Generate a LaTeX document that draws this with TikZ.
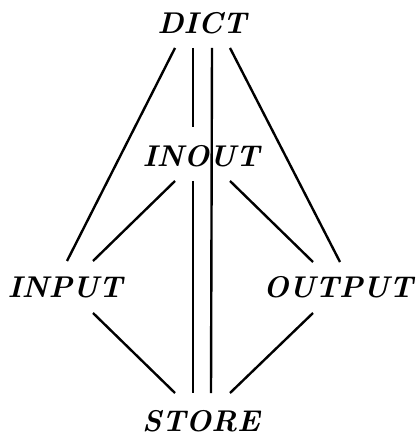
\documentclass[tikz,border=0pt]{standalone}
\usetikzlibrary{calc}
\begin{document}
\begin{tikzpicture}[x=0.5pt,y=-0.5pt,
  lbl/.style={inner sep=0pt,font=\fontsize{15}{18}\selectfont\bfseries\itshape},
  conn/.style={line width=1.2pt}]
\useasboundingbox (0,0) rectangle (418,437);
\node[lbl] (dict)   at (202,23)  {DICT};
\node[lbl] (inout)  at (201,156) {INOUT};
\node[lbl] (inp)    at (65,287)  {INPUT};
\node[lbl] (outp)   at (338,287) {OUTPUT};
\node[lbl] (store)  at (201,421) {STORE};
% DICT connections
\draw[conn] ($(dict)+(-27,25)$) -- ($(inp)+(2,-26)$);
\draw[conn] ($(dict)+(28,25)$) -- ($(outp)+(2,-25)$);
\draw[conn] ($(dict)+(-9,25)$) -- ($(inout)+(-8,-29)$);
\draw[conn] ($(dict)+(10,25)$) -- ($(store)+(10,-28)$);
% INOUT connections
\draw[conn] ($(inout)+(-26,25)$) -- ($(inp)+(28,-26)$);
\draw[conn] ($(inout)+(29,25)$) -- ($(outp)+(-25,-25)$);
\draw[conn] ($(inout)+(-8,25)$) -- ($(store)+(-8,-28)$);
% to STORE
\draw[conn] ($(inp)+(28,26)$) -- ($(store)+(-26,-28)$);
\draw[conn] ($(outp)+(-25,26)$) -- ($(store)+(29,-28)$);
\end{tikzpicture}
\end{document}
